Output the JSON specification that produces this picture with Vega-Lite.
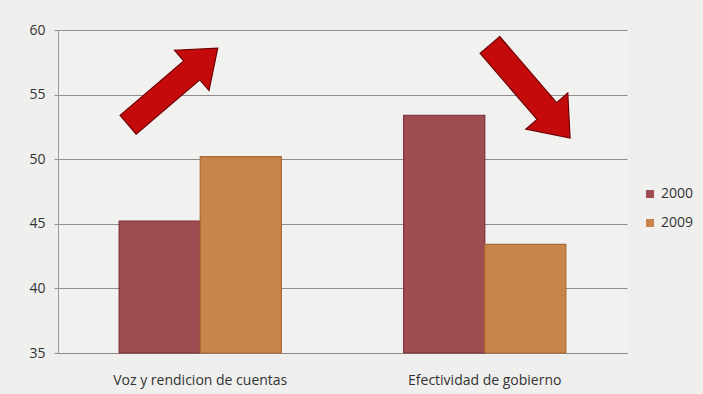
{
  "$schema": "https://vega.github.io/schema/vega-lite/v6.json",
  "width": 569,
  "height": 323,
  "autosize": {"type": "none"},
  "padding": {"left": 58, "top": 30, "right": 76, "bottom": 41},
  "background": "#efefed",
  "config": {
    "view": {"stroke": null, "fill": "#f1f1ef"},
    "font": "Open Sans",
    "axis": {"labelFont": "Open Sans", "labelColor": "#333333", "labelFontSize": 13}
  },
  "datasets": {
    "bars": [
      {"indicador": "Voz y rendicion de cuentas", "anio": "2000", "valor": 45.2, "base": 35},
      {"indicador": "Voz y rendicion de cuentas", "anio": "2009", "valor": 50.2, "base": 35},
      {"indicador": "Efectividad de gobierno", "anio": "2000", "valor": 53.4, "base": 35},
      {"indicador": "Efectividad de gobierno", "anio": "2009", "valor": 43.4, "base": 35}
    ],
    "flechas": [
      {"pos": 0.404, "nivel": 55.63, "giro": 319.5, "tam": 13900},
      {"pos": 1.659, "nivel": 55.24, "giro": 49.3, "tam": 15100}
    ]
  },
  "layer": [
    {
      "data": {"name": "bars"},
      "mark": {"type": "bar", "strokeWidth": 1.2},
      "encoding": {
        "x": {
          "field": "indicador",
          "type": "nominal",
          "sort": ["Voz y rendicion de cuentas", "Efectividad de gobierno"],
          "scale": {"paddingInner": 0.43, "paddingOuter": 0.215},
          "axis": {
            "title": null,
            "labelAngle": 0,
            "labelPadding": 20,
            "labelFontSize": 14,
            "domainColor": "#8a8a8a",
            "ticks": false,
            "grid": false
          }
        },
        "xOffset": {"field": "anio", "type": "nominal", "scale": {"paddingInner": 0, "paddingOuter": 0}},
        "y": {
          "field": "valor",
          "type": "quantitative",
          "scale": {"domain": [35, 60], "zero": false, "nice": false},
          "axis": {
            "title": null,
            "values": [35, 40, 45, 50, 55, 60],
            "gridColor": "#8f8f8f",
            "gridWidth": 1.2,
            "domainColor": "#9a9a9a",
            "tickColor": "#8f8f8f",
            "tickSize": 4,
            "labelPadding": 9,
            "labelFontSize": 14
          }
        },
        "y2": {"field": "base"},
        "color": {
          "field": "anio",
          "type": "nominal",
          "scale": {"domain": ["2000", "2009"], "range": ["#a04d52", "#c98449"]},
          "legend": {
            "title": null,
            "orient": "none",
            "legendX": 585,
            "legendY": 157,
            "symbolType": "square",
            "symbolSize": 64,
            "symbolStrokeWidth": 0,
            "rowPadding": 15,
            "labelFontSize": 14,
            "labelColor": "#333333",
            "labelOffset": 4
          }
        },
        "stroke": {
          "field": "anio",
          "type": "nominal",
          "scale": {"domain": ["2000", "2009"], "range": ["#7c2f36", "#a86a36"]},
          "legend": null
        }
      }
    },
    {
      "data": {"name": "flechas"},
      "mark": {
        "type": "point",
        "filled": true,
        "opacity": 1,
        "color": "#c40a0a",
        "stroke": "#6e0000",
        "strokeWidth": 1.2,
        "shape": "M-1,-0.21 L0.42,-0.21 L0.42,-0.45 L1,0 L0.42,0.45 L0.42,0.21 L-1,0.21 Z"
      },
      "encoding": {
        "x": {"field": "pos", "type": "quantitative", "scale": {"domain": [0, 2], "nice": false, "zero": false}, "axis": null},
        "y": {"field": "nivel", "type": "quantitative", "scale": {"domain": [35, 60], "zero": false, "nice": false}},
        "angle": {"field": "giro", "type": "quantitative", "scale": null},
        "size": {"field": "tam", "type": "quantitative", "scale": null}
      }
    }
  ],
  "resolve": {"scale": {"x": "independent", "color": "independent", "stroke": "independent"}}
}
